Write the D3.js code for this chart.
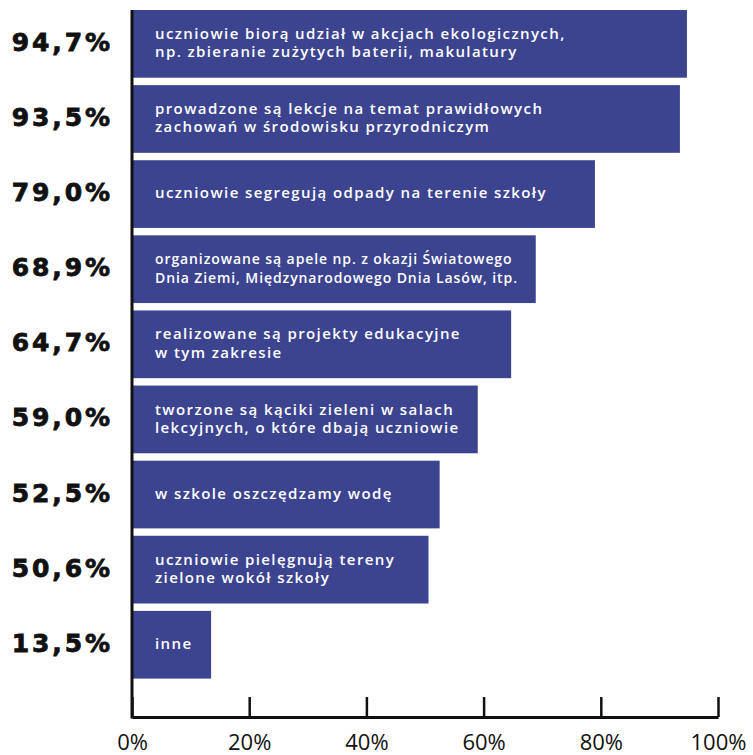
<!DOCTYPE html>
<html>
<head>
<meta charset="utf-8">
<script src="https://cdn.jsdelivr.net/npm/d3@7"></script>
<style>
  html, body { margin: 0; padding: 0; background: #ffffff; }
  svg { display: block; }
</style>
</head>
<body>
<svg id="chart" width="753" height="755"></svg>
<script>
const categories = [
  "uczniowie biorą udział w akcjach ekologicznych,|np. zbieranie zużytych baterii, makulatury",
  "prowadzone są lekcje na temat prawidłowych|zachowań w środowisku przyrodniczym",
  "uczniowie segregują odpady na terenie szkoły",
  "organizowane są apele np. z okazji Światowego|Dnia Ziemi, Międzynarodowego Dnia Lasów, itp.",
  "realizowane są projekty edukacyjne|w tym zakresie",
  "tworzone są kąciki zieleni w salach|lekcyjnych, o które dbają uczniowie",
  "w szkole oszczędzamy wodę",
  "uczniowie pielęgnują tereny|zielone wokół szkoły",
  "inne"
];
const values = [94.7, 93.5, 79.0, 68.9, 64.7, 59.0, 52.5, 50.6, 13.5];
const valueLabels = ["94,7%", "93,5%", "79,0%", "68,9%", "64,7%", "59,0%", "52,5%", "50,6%", "13,5%"];
const tickValues = [0, 20, 40, 60, 80, 100];
const tickLabels = ["0%", "20%", "40%", "60%", "80%", "100%"];

const svg = d3.select("#chart");
const barColor = "#3c448f";

const x = d3.scaleLinear().domain([0, 100]).range([132, 718]);
const y = d3.scaleBand().domain(categories).range([10, 678.6]).paddingInner(0.0985).paddingOuter(0);

// bars
svg.append("g").selectAll("rect").data(categories).join("rect")
  .attr("x", x(0))
  .attr("y", d => y(d))
  .attr("width", (d, i) => x(values[i]) - x(0))
  .attr("height", y.bandwidth())
  .attr("fill", barColor);

// bar labels
const lab = svg.append("g").selectAll("text").data(categories).join("text")
  .attr("fill", "#ffffff")
  .attr("font-family", "'Open Sans', sans-serif")
  .attr("font-weight", 600)
  .attr("font-size", (d, i) => i === 3 ? 14 : 15)
  .attr("letter-spacing", (d, i) => i === 3 ? 0.9 : 1.4);
lab.each(function(d) {
  const lines = d.split("|");
  const t = d3.select(this);
  const cy = y(d) + y.bandwidth() / 2;
  const lh = 18.4;
  const start = cy - (lines.length - 1) * lh / 2 + 4.3;
  lines.forEach((ln, j) => {
    t.append("tspan").attr("x", x(0) + 23).attr("y", start + j * lh).text(ln);
  });
});

// value labels
svg.append("g").selectAll("text").data(categories).join("text")
  .attr("x", 110 + 2.9)
  .attr("y", d => y(d) + y.bandwidth() / 2 + 7)
  .attr("text-anchor", "end")
  .attr("font-family", "'DejaVu Sans', sans-serif")
  .attr("font-weight", 700)
  .attr("font-size", 25)
  .attr("letter-spacing", 2.9)
  .attr("fill", "#111111")
  .attr("stroke", "#111111")
  .attr("stroke-width", 0.8)
  .text((d, i) => valueLabels[i]);

// x axis
const axisY = 717;
const xAxis = d3.axisBottom(x)
  .tickValues(tickValues)
  .tickFormat((d, i) => tickLabels[i])
  .tickSizeInner(-20)
  .tickSizeOuter(0)
  .tickPadding(17);
const gx = svg.append("g").attr("transform", `translate(0,${axisY})`).call(xAxis);
gx.select(".domain").attr("stroke", "#111").attr("stroke-width", 3);
gx.selectAll(".tick line").attr("stroke", "#111").attr("stroke-width", 2.5);
gx.selectAll(".tick text")
  .attr("font-family", "'Open Sans', sans-serif")
  .attr("font-size", 22)
  .attr("fill", "#111");

// y axis line
const yAxis = d3.axisLeft(y).tickSize(0).tickFormat("");
const gy = svg.append("g").attr("transform", `translate(${x(0)},0)`).call(yAxis);
gy.select(".domain").attr("d", `M0,10V${axisY + 1.5}`).attr("stroke", "#111").attr("stroke-width", 3);
</script>
</body>
</html>
